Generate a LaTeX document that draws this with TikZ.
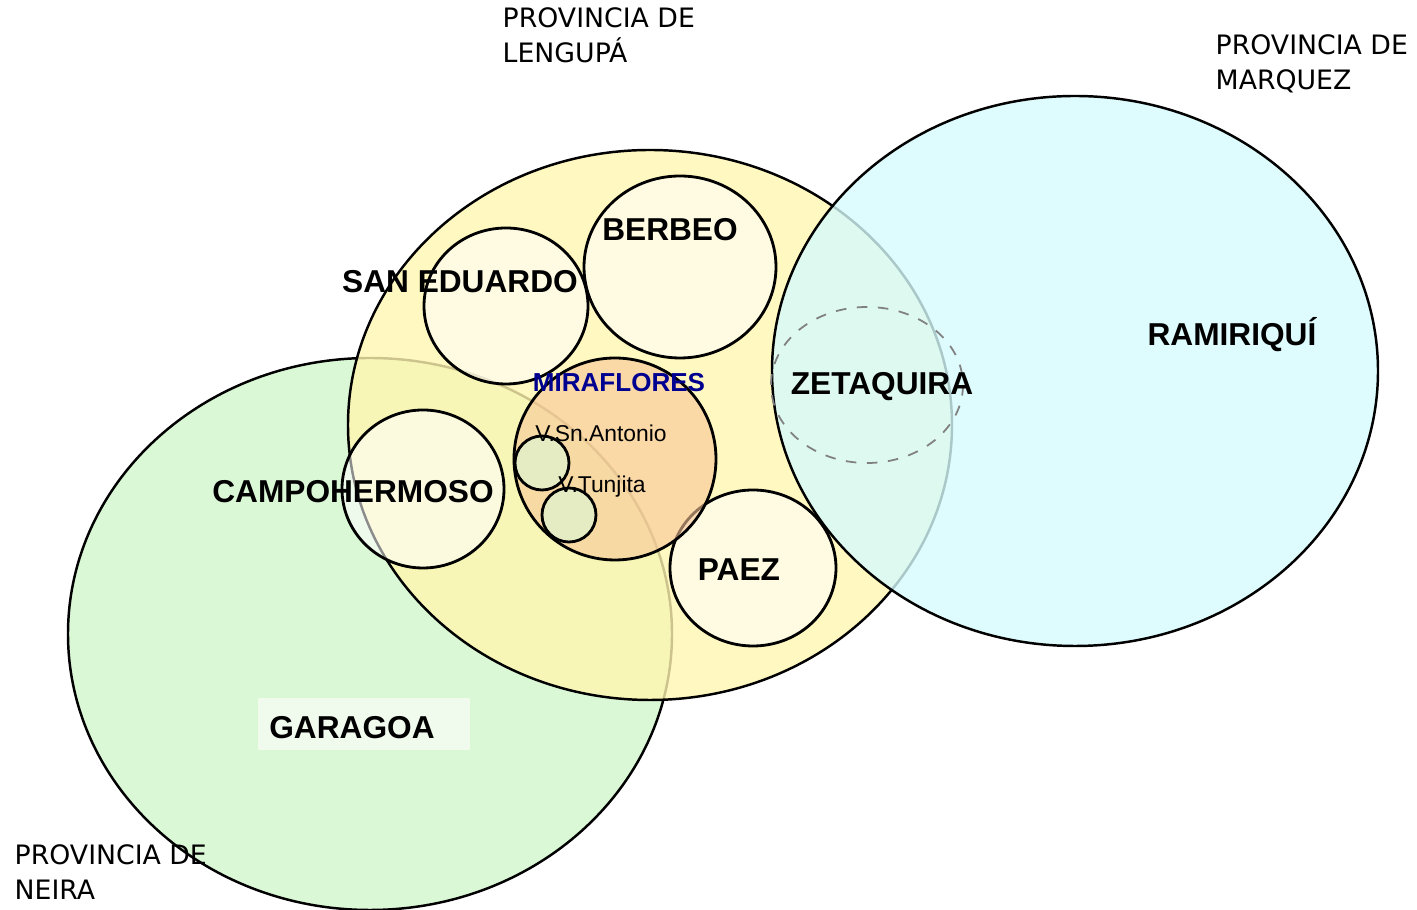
\documentclass[tikz,border=0pt]{standalone}
\usepackage{fontspec}
\setmainfont{Liberation Sans}
\newfontfamily\provfont{DejaVu Sans}
\definecolor{amarillo}{HTML}{FFF6B0}
\definecolor{celeste}{HTML}{D6FAFC}
\definecolor{verde}{HTML}{DAF7D6}
\definecolor{naranja}{HTML}{F8C698}
\definecolor{azulosc}{HTML}{000090}
\begin{document}
\begin{tikzpicture}[x=0.01cm,y=-0.01cm,
  region/.style={draw=black,line width=0.7pt},
  pueblo/.style={draw=black,line width=0.8pt,fill=white,fill opacity=0.55,draw opacity=1},
  vereda/.style={draw=black,line width=0.8pt,fill=verde,fill opacity=0.6},
  nombre/.style={font=\fontsize{9}{10}\selectfont\bfseries,inner sep=1pt},
  provincia/.style={font=\provfont\fontsize{7.6}{10}\selectfont,align=left,anchor=north west,inner sep=0pt}]
\useasboundingbox (0,0) rectangle (1417,910);
% provincias
\draw[region,fill=verde] (370,634) ellipse [x radius=302,y radius=276];
\draw[region,fill=amarillo,fill opacity=0.8] (650,425) ellipse [x radius=302,y radius=275];
\draw[region,fill=celeste,fill opacity=0.8] (1075,371) ellipse [x radius=303,y radius=275];
% municipios
\draw[pueblo] (506,306) ellipse [x radius=82,y radius=78];
\draw[pueblo] (680,267) ellipse [x radius=96,y radius=91];
\draw[pueblo] (423,489) ellipse [x radius=81,y radius=79];
\draw[pueblo] (753,568) ellipse [x radius=83,y radius=78];
\draw[line width=0.8pt,fill=naranja,fill opacity=0.6] (615,459) ellipse [x radius=101,y radius=101];
\draw[vereda] (542,463) circle (27);
\draw[vereda] (569,515) circle (27);
\draw[gray,dashed,line width=0.5pt] (867,385) ellipse [x radius=96,y radius=78];
% etiquetas
\node[nombre] (berbeo) at (670,230) {BERBEO};
\node[nombre] (saneduardo) at (460,282) {SAN EDUARDO};
\node[nombre,text=azulosc,font=\fontsize{7.4}{9}\selectfont\bfseries] (miraflores) at (619,383) {MIRAFLORES};
\node[nombre] (zetaquira) at (882,387) {ZETAQUIRA};
\node[nombre] (ramiriqui) at (1232,335) {RAMIRIQUÍ};
\node[nombre] (campohermoso) at (353,492) {CAMPOHERMOSO};
\node[nombre] (paez) at (739,570) {PAEZ};
\fill[white,opacity=0.6] (258,698) rectangle (470,750);
\node[nombre] (garagoa) at (352,728) {GARAGOA};
\node[font=\fontsize{6.5}{8}\selectfont,inner sep=1pt] (snantonio) at (601,433) {V.Sn.Antonio};
\node[font=\fontsize{6.5}{8}\selectfont,inner sep=1pt] (tunjita) at (602,487) {V.Tunjita};
\node[provincia] (lengupa) at (502,7) {PROVINCIA DE\\LENGUPÁ};
\node[provincia] (marquez) at (1215,34) {PROVINCIA DE\\MARQUEZ};
\node[provincia] (neira) at (14,844) {PROVINCIA DE\\NEIRA};
\end{tikzpicture}
\end{document}
